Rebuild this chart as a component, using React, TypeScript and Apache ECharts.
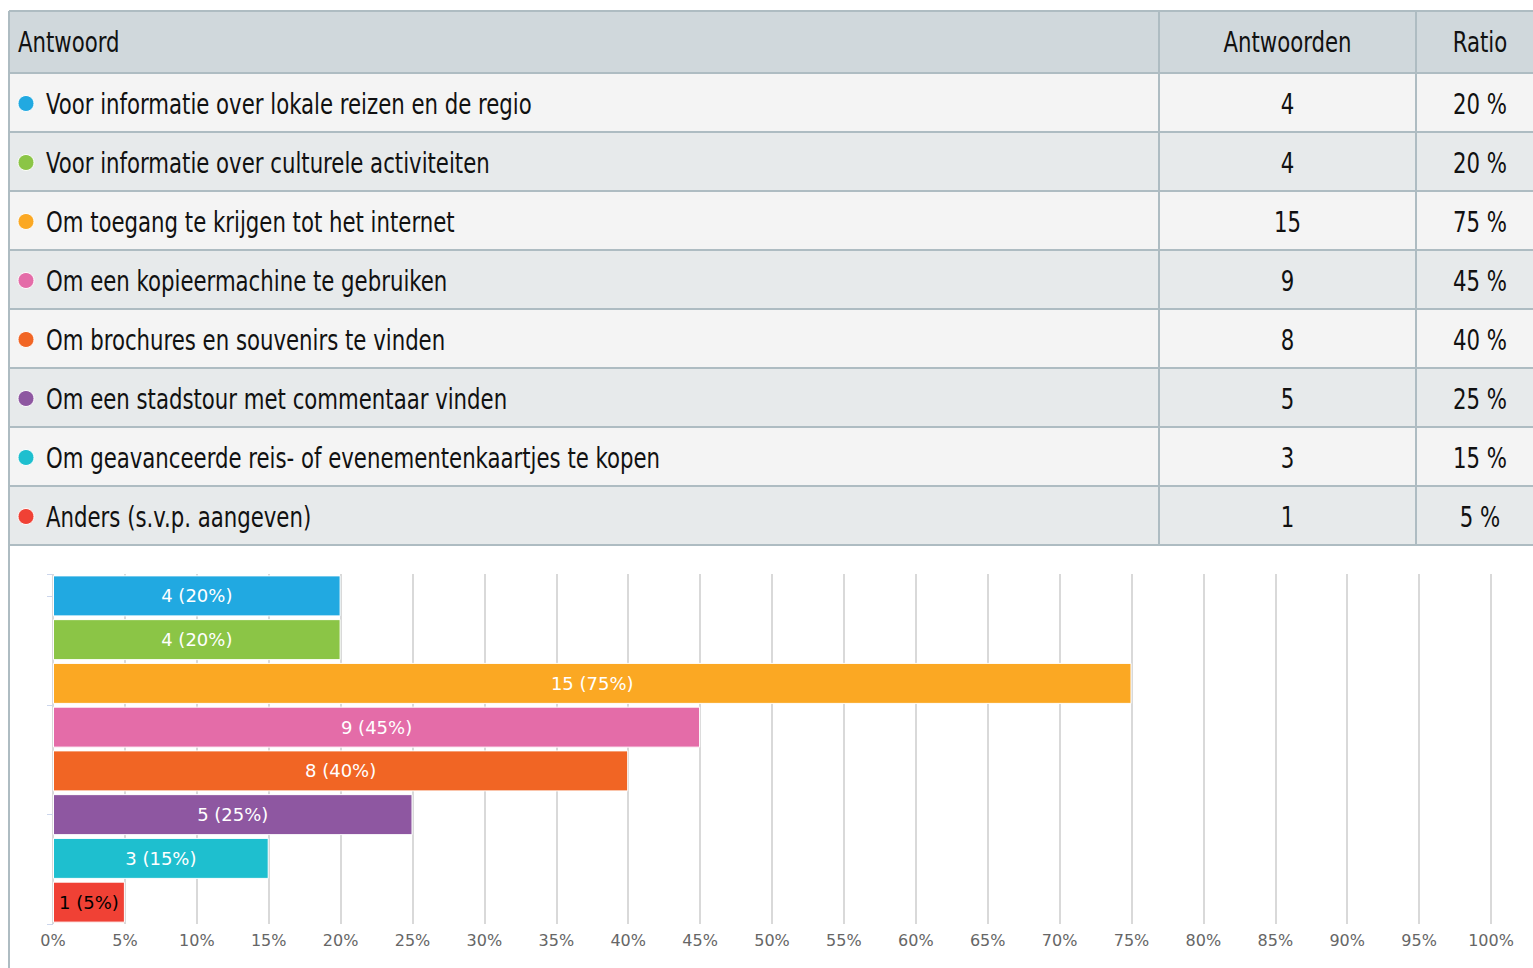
import React, { useEffect, useRef } from "react";
import * as echarts from "echarts";

const categories: string[] = [
  "Voor informatie over lokale reizen en de regio",
  "Voor informatie over culturele activiteiten",
  "Om toegang te krijgen tot het internet",
  "Om een kopieermachine te gebruiken",
  "Om brochures en souvenirs te vinden",
  "Om een stadstour met commentaar vinden",
  "Om geavanceerde reis- of evenementenkaartjes te kopen",
  "Anders (s.v.p. aangeven)",
];
const counts: number[] = [4, 4, 15, 9, 8, 5, 3, 1];
const ratios: number[] = [20, 20, 75, 45, 40, 25, 15, 5];
const colors: string[] = [
  "#21a9e1",
  "#8bc546",
  "#fba823",
  "#e46ca8",
  "#f16524",
  "#8e57a1",
  "#1ebfcf",
  "#f04135",
];
const headers: string[] = ["Antwoord", "Antwoorden", "Ratio"];

const TABLE_FONT = "29px 'DejaVu Sans Condensed', 'DejaVu Sans', sans-serif";
const NARROW = 0.815;

export default function App() {
  const ref = useRef<HTMLDivElement>(null);

  useEffect(() => {
    if (!ref.current) return;
    const chart = echarts.init(ref.current, undefined, { renderer: "svg" });

    const tLeft = 9;
    const tRight = 1545;
    const col1 = 1159;
    const col2 = 1416;
    const headTop = 11;
    const headH = 62;
    const rowH = 59;
    const border = "#aebcc2";
    const c2 = (col1 + col2) / 2;
    const c3 = 1480;

    const txt = (text: string, x: number, y: number, align: string) => ({
      type: "text",
      x,
      y,
      scaleX: NARROW,
      style: {
        text,
        font: TABLE_FONT,
        fill: "#111111",
        textAlign: align,
        textVerticalAlign: "middle",
      },
    });

    const g: any[] = [];
    g.push({
      type: "rect",
      shape: { x: tLeft, y: headTop, width: tRight - tLeft, height: headH },
      style: { fill: "#d0d8dc" },
    });
    categories.forEach((_, i) => {
      g.push({
        type: "rect",
        shape: { x: tLeft, y: headTop + headH + i * rowH, width: tRight - tLeft, height: rowH },
        style: { fill: i % 2 === 0 ? "#f4f4f4" : "#e7eaeb" },
      });
    });
    for (let i = 0; i <= categories.length + 1; i++) {
      const y = i === 0 ? headTop : headTop + headH + (i - 1) * rowH;
      g.push({
        type: "line",
        shape: { x1: tLeft, y1: y, x2: tRight, y2: y },
        style: { stroke: border, lineWidth: 2 },
      });
    }
    const tBottom = headTop + headH + categories.length * rowH;
    [col1, col2].forEach((x) => {
      g.push({
        type: "line",
        shape: { x1: x, y1: headTop, x2: x, y2: tBottom },
        style: { stroke: border, lineWidth: 2 },
      });
    });
    g.push({
      type: "line",
      shape: { x1: tLeft, y1: headTop, x2: tLeft, y2: 968 },
      style: { stroke: border, lineWidth: 2 },
    });

    const hy = headTop + headH / 2;
    g.push(txt(headers[0], 18, hy, "left"));
    g.push(txt(headers[1], c2, hy, "center"));
    g.push(txt(headers[2], c3, hy, "center"));

    categories.forEach((cat, i) => {
      const cy = headTop + headH + i * rowH + rowH / 2 + 1;
      g.push({
        type: "circle",
        shape: { cx: 26, cy, r: 8 },
        style: { fill: colors[i], stroke: "#ffffff", lineWidth: 1 },
      });
      g.push(txt(cat, 46, cy, "left"));
      g.push(txt(String(counts[i]), c2, cy, "center"));
      g.push(txt(`${ratios[i]} %`, c3, cy, "center"));
    });

    const data = ratios.map((r, i) => ({
      value: r,
      itemStyle: { color: colors[i] },
      label: i === categories.length - 1 ? { color: "#000000" } : undefined,
    }));

    chart.setOption({
      animation: false,
      backgroundColor: "#ffffff",
      grid: { left: 53, right: 42, top: 574, bottom: 44, containLabel: false },
      xAxis: {
        type: "value",
        min: 0,
        max: 100,
        interval: 5,
        axisLine: { show: false },
        axisTick: { show: false },
        axisLabel: {
          formatter: "{value}%",
          color: "#666666",
          fontFamily: "'DejaVu Sans', sans-serif",
          fontSize: 16,
          margin: 8,
        },
        splitLine: { show: true, lineStyle: { color: "#cccccc", width: 1.5 } },
      },
      yAxis: [
        {
          type: "category",
          data: categories,
          inverse: true,
          axisLine: { show: false },
          axisTick: { show: false },
          axisLabel: { show: false },
          splitLine: { show: false },
        },
        {
          type: "value",
          position: "left",
          min: 0,
          max: 3.2,
          interval: 1,
          axisLine: { show: false },
          axisTick: { show: true, length: 6, lineStyle: { color: "#ccd6eb" } },
          axisLabel: { show: false },
          splitLine: { show: false },
        },
      ],
      series: [
        {
          type: "bar",
          yAxisIndex: 0,
          data,
          barWidth: 41,
          itemStyle: { borderColor: "#ffffff", borderWidth: 1 },
          label: {
            show: true,
            position: "inside",
            color: "#ffffff",
            fontFamily: "'DejaVu Sans', sans-serif",
            fontSize: 18,
            formatter: (p: any) => `${counts[p.dataIndex]} (${ratios[p.dataIndex]}%)`,
          },
        },
      ],
      graphic: g,
    });

    return () => chart.dispose();
  }, []);

  return (
    <div
      ref={ref}
      style={{ position: "absolute", left: 0, top: 0, width: 1533, height: 968, background: "#fff" }}
    />
  );
}
